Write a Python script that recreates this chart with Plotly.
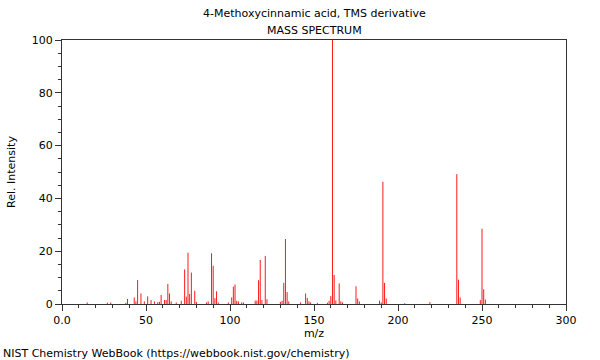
import plotly.graph_objects as go

title = "4-Methoxycinnamic acid, TMS derivative"
subtitle = "MASS SPECTRUM"
footer = "NIST Chemistry WebBook (https://webbook.nist.gov/chemistry)"

mz = [15, 27, 29, 38, 39, 43, 44, 45, 47, 49, 51, 53, 55, 57, 58, 59, 61, 62, 63, 64,
      65, 68, 71, 73, 74, 75, 76, 77, 79, 80, 86, 87, 89, 90, 91, 92, 93, 99, 101, 102,
      103, 104, 105, 107, 108, 115, 116, 117, 118, 119, 121, 122, 130, 131, 132, 133, 134,
      135, 142, 145, 146, 147, 148, 152, 158, 159, 160, 161, 162, 163, 165, 166, 167, 175,
      176, 177, 189, 190, 191, 192, 193, 204, 219, 235, 236, 237, 249, 250, 251, 252]
intensity = [0.6, 0.5, 0.6, 0.5, 1.9, 2.5, 1.0, 9.1, 4.0, 1.0, 2.9, 1.5, 1.0, 0.7, 0.8, 3.4,
             1.5, 1.5, 7.6, 4.0, 1.0, 0.6, 1.2, 13.1, 2.8, 19.4, 3.8, 11.9, 5.0, 0.8, 0.6,
             1.0, 19.2, 14.5, 2.2, 4.8, 0.6, 0.6, 2.5, 6.6, 7.4, 1.2, 1.0, 0.6, 0.6, 1.3,
             1.3, 9.0, 16.7, 1.5, 18.2, 1.8, 0.8, 1.2, 8.0, 24.6, 4.5, 1.0, 0.6, 4.0, 2.3,
             1.0, 0.6, 0.4, 0.5, 1.2, 3.0, 100.0, 11.0, 1.3, 7.8, 1.0, 0.6, 6.7, 2.1, 1.0,
             1.3, 0.6, 46.3, 8.0, 2.1, 0.3, 0.7, 49.2, 9.2, 2.5, 1.5, 28.5, 5.6, 1.7]

x_tickvals = [0, 50, 100, 150, 200, 250, 300]
x_ticktext = ["0.0", "50", "100", "150", "200", "250", "300"]
y_tickvals = [0, 20, 40, 60, 80, 100]

xs, ys = [], []
for m, v in zip(mz, intensity):
    xs += [m, m, None]
    ys += [0, v, None]

fig = go.Figure()
fig.add_trace(go.Scatter(x=xs, y=ys, mode="lines",
                         line=dict(color="#ff1a1a", width=1),
                         hoverinfo="skip", showlegend=False))

font = dict(family="DejaVu Sans", size=11, color="#000000")
axis_common = dict(showline=True, linecolor="#333333", linewidth=1, mirror=True,
                   ticks="outside", tickcolor="#333333", ticklen=6, tickwidth=1,
                   showgrid=False, zeroline=False, tickfont=font, automargin=False)

fig.update_xaxes(range=[0, 300], tickvals=x_tickvals, ticktext=x_ticktext,
                 minor=dict(ticks="outside", ticklen=3, dtick=10, tick0=0,
                            tickcolor="#333333", showgrid=False),
                 title=dict(text="m/z", font=font, standoff=3), **axis_common)
fig.update_yaxes(range=[0, 100], tickvals=y_tickvals,
                 minor=dict(ticks="outside", ticklen=3, dtick=5, tick0=0,
                            tickcolor="#333333", showgrid=False),
                 title=dict(text="Rel. Intensity", font=font, standoff=13), **axis_common)

fig.update_layout(
    width=600, height=360,
    margin=dict(l=62, r=34, t=40, b=56),
    paper_bgcolor="white", plot_bgcolor="white",
    font=font,
    annotations=[
        dict(text=title, xref="paper", yref="paper", x=0.5, y=1, yshift=27,
             showarrow=False, font=font, xanchor="center", yanchor="middle"),
        dict(text=subtitle, xref="paper", yref="paper", x=0.5, y=1, yshift=10,
             showarrow=False, font=font, xanchor="center", yanchor="middle"),
        dict(text=footer, xref="paper", yref="paper", x=0, y=0, xshift=-61, yshift=-49,
             showarrow=False, font=font, xanchor="left", yanchor="middle"),
    ],
)

fig.write_html("out.html", config={"displayModeBar": False},
               post_script="document.body.style.margin='0';document.body.style.padding='0';")
